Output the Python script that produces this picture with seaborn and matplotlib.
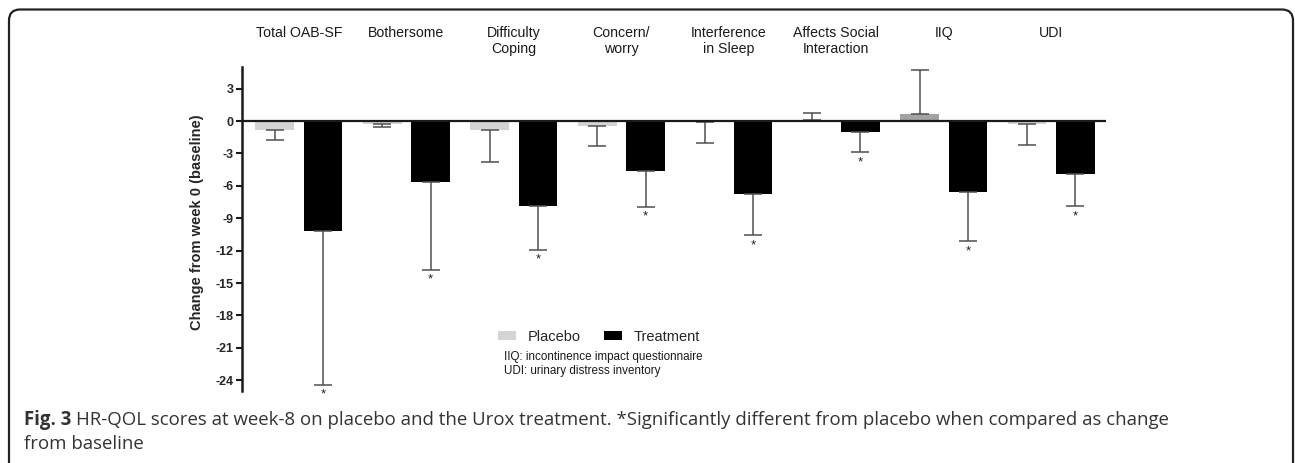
import numpy as np
import pandas as pd
import matplotlib
matplotlib.use("Agg")
import matplotlib.pyplot as plt
import matplotlib.transforms as mtransforms
from matplotlib.patches import FancyBboxPatch
import seaborn as sns

# ---- data ----
categories = ["Total OAB-SF", "Bothersome", "Difficulty\nCoping", "Concern/\nworry",
              "Interference\nin Sleep", "Affects Social\nInteraction", "IIQ", "UDI"]
groups = ["Placebo", "Treatment"]
placebo_mean = [-0.8, -0.25, -0.8, -0.45, -0.1, 0.05, 0.65, -0.25]
placebo_err = [0.95, 0.3, 3.0, 1.85, 1.9, 0.65, 4.05, 1.95]
treatment_mean = [-10.2, -5.65, -7.85, -4.65, -6.75, -1.0, -6.6, -4.95]
treatment_err = [14.2, 8.1, 4.05, 3.3, 3.85, 1.9, 4.55, 2.95]
significant = [True, True, True, True, True, True, True, True]
yticks = [3, 0, -3, -6, -9, -12, -15, -18, -21, -24]
notes = ["IIQ: incontinence impact questionnaire", "UDI: urinary distress inventory"]

sns.set_style("ticks")
plt.rcParams["font.family"] = ["Liberation Sans", "DejaVu Sans"]

df = pd.DataFrame({
    "category": categories * 2,
    "group": [groups[0]] * len(categories) + [groups[1]] * len(categories),
    "mean": placebo_mean + treatment_mean,
})

fig = plt.figure(figsize=(12.95, 4.63), dpi=100)
ax = fig.add_axes([242 / 1295, 1 - 391 / 463, (1106 - 242) / 1295, (391 - 67) / 463])

palette = {"Placebo": "#d4d4d4", "Treatment": "#000000"}
sns.barplot(data=df, x="category", y="mean", hue="group", hue_order=groups,
            order=categories, palette=palette, errorbar=None, width=0.9, gap=0.2,
            linewidth=0, ax=ax)

errs = [placebo_err, treatment_err]
means = [placebo_mean, treatment_mean]
bar_conts = list(ax.containers)
for gi, cont in enumerate(bar_conts):
    for ci, bar in enumerate(cont.patches):
        xc = bar.get_x() + bar.get_width() / 2
        m = means[gi][ci]
        e = errs[gi][ci]
        if m >= 0:
            yerr = [[0], [e]]
        else:
            yerr = [[e], [0]]
        ax.errorbar([xc], [m], yerr=yerr, fmt="none", ecolor="#505050",
                    elinewidth=1.1, capsize=6.8, capthick=1.1, zorder=3)
        if gi == 0 and m > 0.3:
            bar.set_facecolor("#a3a3a3")
        if gi == 1 and significant[ci]:
            ax.text(xc, m - e - 0.35, "*", ha="center", va="top",
                    fontsize=9.5, color="#222222")

ax.axhline(0, color="#1a1a1a", lw=1.6, zorder=4)
ax.set_xlim(-0.53, 7.51)
ax.set_ylim(-25, 5)
ax.set_yticks(yticks)
ax.set_yticklabels([str(t) for t in yticks], fontweight="bold", fontsize=9)
ax.tick_params(axis="y", length=4, width=1.5, color="#1a1a1a", pad=2)
ax.set_xticks([])
ax.set_xlabel("")
ax.set_ylabel("Change from week 0 (baseline)", fontweight="bold", fontsize=10.5)
ax.yaxis.set_label_coords(204 / 1295, 1 - 222 / 463, transform=fig.transFigure)
for s in ["top", "right", "bottom"]:
    ax.spines[s].set_visible(False)
ax.spines["left"].set_linewidth(1.8)
ax.spines["left"].set_color("#1a1a1a")

# category labels on top
trans = mtransforms.blended_transform_factory(ax.transData, fig.transFigure)
for i, c in enumerate(categories):
    ax.text(i, 1 - 26 / 463, c, transform=trans, ha="center", va="top",
            fontsize=10.2, color="#1a1a1a", linespacing=1.2)

# legend
handles, labels = ax.get_legend_handles_labels()
ax.legend(handles, labels, ncol=2, frameon=False, loc="center left",
          bbox_to_anchor=(498 / 1295, 1 - 337 / 463), bbox_transform=fig.transFigure,
          borderpad=0, borderaxespad=0, handlelength=1.25, handleheight=0.55,
          handletextpad=0.8, columnspacing=1.6, fontsize=10.5)
for k, n in enumerate(notes):
    fig.text(504 / 1295, 1 - (357 + 14 * k) / 463, n, fontsize=8.4,
             va="center", ha="left", color="#1a1a1a")

# caption
cap_fam = ["Open Sans", "Liberation Sans"]
cap_size = 13.4
t1 = fig.text(24 / 1295, 1 - 420 / 463, "Fig. 3", fontsize=cap_size, fontweight="bold",
              va="center", ha="left", family=cap_fam, color="#333333")
fig.canvas.draw()
bb = t1.get_window_extent()
fig.text((bb.x1 + 5) / 1295, 1 - 420 / 463,
         "HR-QOL scores at week-8 on placebo and the Urox treatment. *Significantly different from placebo when compared as change",
         fontsize=cap_size, va="center", ha="left", family=cap_fam, color="#333333")
fig.text(24 / 1295, 1 - 444 / 463, "from baseline", fontsize=cap_size, va="center",
         ha="left", family=cap_fam, color="#333333")

# frame
frame = FancyBboxPatch((9, -30), 1284, 463 - 9.5 + 30,
                       boxstyle="round,pad=0,rounding_size=11", transform=None,
                       fill=False, lw=1.6, ec="#222222")
fig.patches.append(frame)

fig.savefig("out.png", dpi=100)
